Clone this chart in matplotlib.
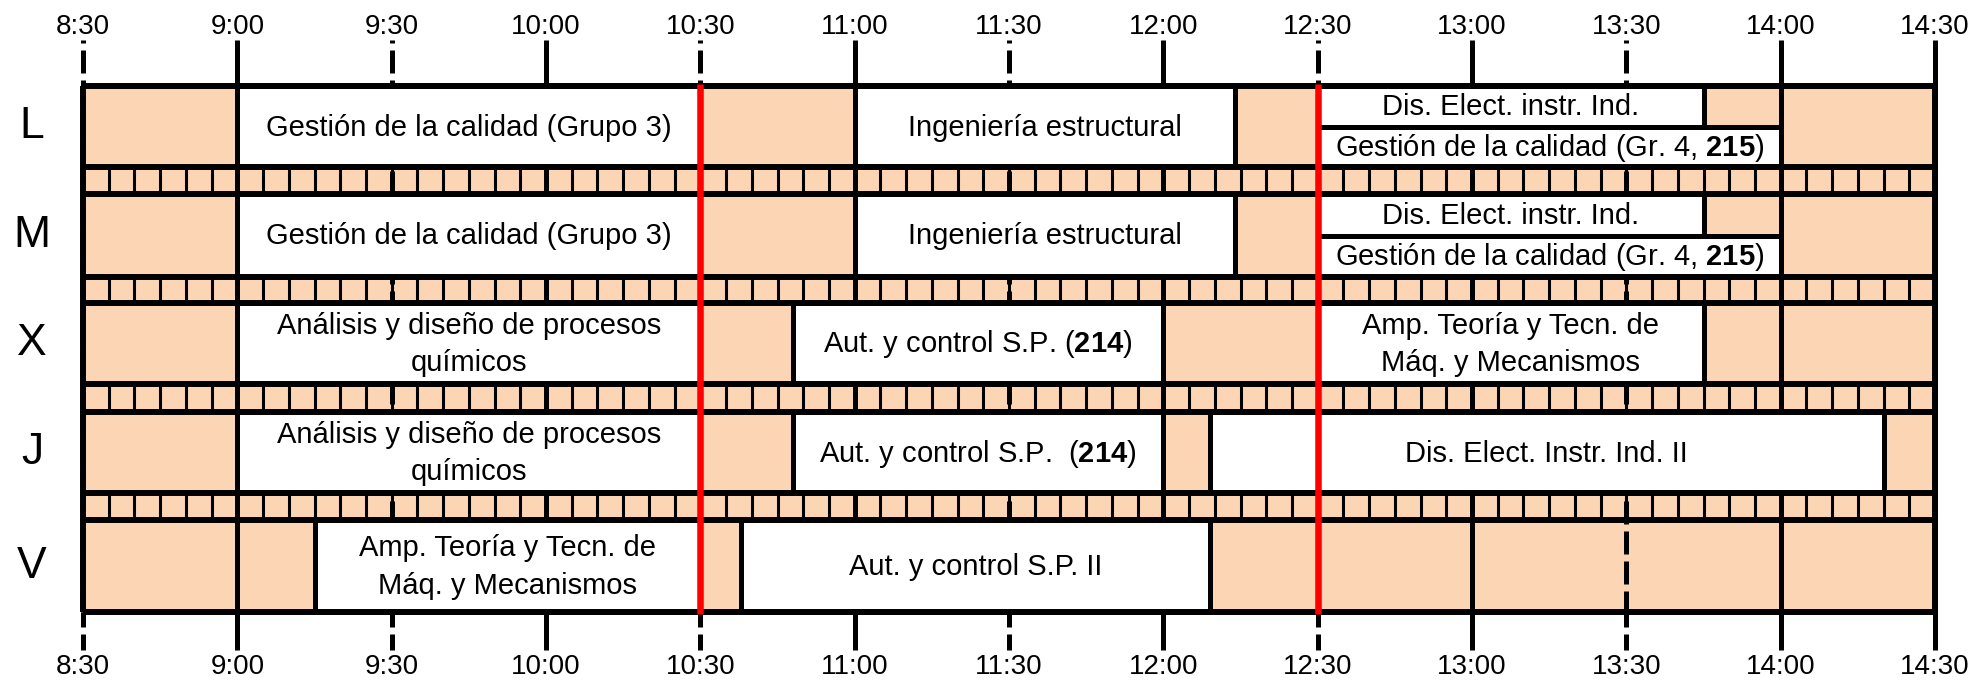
"""Horario semanal (L-V) con bloques de clase, 8:30 a 14:30."""

import matplotlib
matplotlib.use("Agg")
import matplotlib.pyplot as plt
from matplotlib.patches import Rectangle

plt.rcParams["font.family"] = ["Liberation Sans", "DejaVu Sans"]
plt.rcParams["mathtext.fontset"] = "custom"
plt.rcParams["mathtext.rm"] = "Liberation Sans"
plt.rcParams["mathtext.it"] = "Liberation Sans:italic"
plt.rcParams["mathtext.bf"] = "Liberation Sans:bold"

# ---- data ----
days = ["L", "M", "X", "J", "V"]
time_ticks = ["8:30", "9:00", "9:30", "10:00", "10:30", "11:00", "11:30",
              "12:00", "12:30", "13:00", "13:30", "14:00", "14:30"]
now_marks = ["10:30", "12:30"]

class_day = ["L", "L", "L", "L",
             "M", "M", "M", "M",
             "X", "X", "X",
             "J", "J", "J",
             "V", "V"]
class_start = ["9:00", "11:00", "12:30", "12:30",
               "9:00", "11:00", "12:30", "12:30",
               "9:00", "10:48", "12:30",
               "9:00", "10:48", "12:09",
               "9:15", "10:38"]
class_end = ["10:30", "12:14", "13:45", "14:00",
             "10:30", "12:14", "13:45", "14:00",
             "10:30", "12:00", "13:45",
             "10:30", "12:00", "14:20",
             "10:30", "12:09"]
class_slot = ["full", "full", "top", "bottom",
              "full", "full", "top", "bottom",
              "full", "full", "full",
              "full", "full", "full",
              "full", "full"]
class_label = [
    "Gestión de la calidad (Grupo 3)", "Ingeniería estructural",
    "Dis. Elect. instr. Ind.", r"Gestión de la calidad (Gr. 4, $\mathbf{215}$)",
    "Gestión de la calidad (Grupo 3)", "Ingeniería estructural",
    "Dis. Elect. instr. Ind.", r"Gestión de la calidad (Gr. 4, $\mathbf{215}$)",
    "Análisis y diseño de procesos\nquímicos", r"Aut. y control S.P. ($\mathbf{214}$)",
    "Amp. Teoría y Tecn. de\nMáq. y Mecanismos",
    "Análisis y diseño de procesos\nquímicos", r"Aut. y control S.P.  ($\mathbf{214}$)",
    "Dis. Elect. Instr. Ind. II",
    "Amp. Teoría y Tecn. de\nMáq. y Mecanismos", "Aut. y control S.P. II",
]


def minutes(s):
    h, m = s.split(":")
    return int(h) * 60 + int(m)


# ---- layout (pixels of the output image) ----
W, H = 1977, 681
x_left, x_right = 83, 1935
row_top = [86, 194, 303, 412, 520]
row_bot = [167, 277, 384, 493, 612]
PEACH = "#FCD5B4"
LW_FRAME, LW_LINE, LW_THIN, LW_RED = 4.3, 3.6, 2.2, 4.7

t0, t1 = minutes(time_ticks[0]), minutes(time_ticks[-1])
ppm = (x_right - x_left) / (t1 - t0)

fig = plt.figure(figsize=(W / 100, H / 100), dpi=100)
ax = fig.add_axes([0, 0, 1, 1])
ax.set_xlim(t0 - x_left / ppm, t1 + (W - x_right) / ppm)
ax.set_ylim(H, 0)
ax.axis("off")

top, bot = row_top[0], row_bot[-1]

# background
ax.add_patch(Rectangle((t0, top), t1 - t0, bot - top, facecolor=PEACH,
                       edgecolor="none", zorder=0))

# 5-minute cells in the separator strips
cells = list(range(t0 + 5, t1, 5))
for b, t in zip(row_bot[:-1], row_top[1:]):
    ax.vlines(cells, b, t, color="black", lw=LW_THIN, zorder=1)

# hour (solid) and half-hour (dashed) lines
dash = (4.6, 1.4)
for lab in time_ticks:
    m = minutes(lab)
    if m % 60 == 0 or m == t1:
        ax.vlines(m, 40, 650, color="black", lw=LW_LINE, zorder=2)
    else:
        ax.plot([m, m], [40, top], color="black", lw=LW_LINE, zorder=2,
                linestyle=(4.0, dash), solid_capstyle="butt", dash_capstyle="butt")
        ax.plot([m, m], [top, bot], color="black", lw=LW_LINE, zorder=2,
                linestyle=(1.0, dash), solid_capstyle="butt", dash_capstyle="butt")
        ax.plot([m, m], [bot, 650], color="black", lw=LW_LINE, zorder=2,
                linestyle=(1.6, dash), solid_capstyle="butt", dash_capstyle="butt")
    ax.text(m, 27, lab, ha="center", va="center", fontsize=20)
    ax.text(m, 667, lab, ha="center", va="center", fontsize=20)

# class boxes
for d, s, e, slot, lab in zip(class_day, class_start, class_end, class_slot, class_label):
    i = days.index(d)
    y0, y1 = row_top[i], row_bot[i]
    mid = (y0 + y1) / 2
    if slot == "top":
        y1 = mid
    elif slot == "bottom":
        y0 = mid
    a, b = minutes(s), minutes(e)
    ax.add_patch(Rectangle((a, y0), b - a, y1 - y0, facecolor="white",
                           edgecolor="black", lw=LW_LINE, joinstyle="miter", zorder=3))
    ax.text((a + b) / 2, (y0 + y1) / 2 + 1, lab, ha="center", va="center",
            fontsize=21, linespacing=1.45, zorder=6)

# row lines and frame
ys = sorted(row_top + row_bot)
ax.hlines(ys, t0, t1, color="black", lw=LW_FRAME, zorder=4)
ax.vlines([t0, t1], top, bot, color="black", lw=LW_FRAME, zorder=4)

# current-time markers
ax.vlines([minutes(n) for n in now_marks], top - 2, bot + 2, color="#FF0000",
          lw=LW_RED, zorder=5)

# day letters
for d, y0, y1 in zip(days, row_top, row_bot):
    ax.text(t0 - (x_left - 32) / ppm, (y0 + y1) / 2, d, ha="center", va="center",
            fontsize=32)

fig.savefig("out.png", dpi=100)
